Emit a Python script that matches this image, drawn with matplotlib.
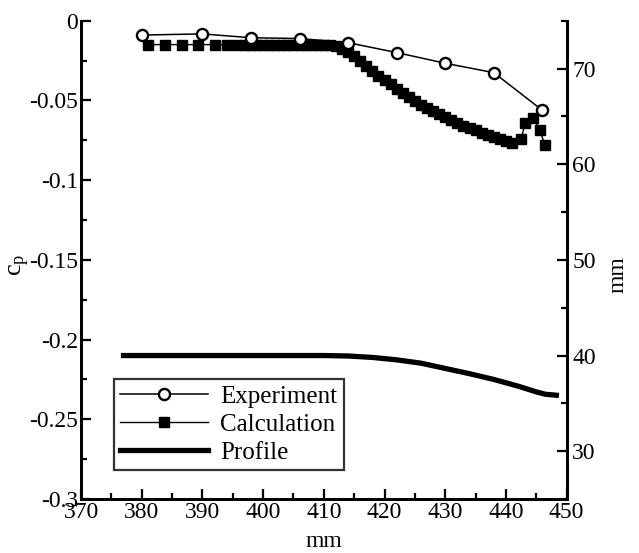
import matplotlib

matplotlib.use("Agg")
import matplotlib.pyplot as plt
from matplotlib.ticker import MultipleLocator

plt.rcParams["font.family"] = ["Liberation Serif", "DejaVu Serif"]
plt.rcParams["mathtext.fontset"] = "stix"

# pressure coefficient, measured
exp_x = [380, 390, 398, 406, 414, 422, 430, 438, 446]
exp_cp = [-0.0090, -0.0083, -0.0107, -0.0112, -0.0138, -0.0200, -0.0267, -0.0326, -0.0562]

# pressure coefficient, computed
calc_x = [381, 383.8, 386.6, 389.3, 392, 394, 395.7,
          397, 398, 399, 400, 401, 402, 403, 404, 405, 406, 407, 408, 409, 410, 411,
          412, 413, 414, 415, 416, 417, 418, 419, 420, 421, 422, 423, 424, 425, 426,
          427, 428, 429, 430, 431, 432, 433, 434, 435, 436, 437, 438, 439, 440, 441,
          442.5, 443.2, 444.5, 445.6, 446.4]
calc_cp = [-0.0150, -0.0150, -0.0150, -0.0150, -0.0150, -0.0150, -0.0150,
           -0.0150, -0.0150, -0.0150, -0.0150, -0.0150, -0.0150, -0.0150, -0.0150,
           -0.0150, -0.0150, -0.0150, -0.0150, -0.0150, -0.0150, -0.0152,
           -0.0160, -0.0180, -0.0195, -0.0220, -0.0250, -0.0285, -0.0315, -0.0345,
           -0.0370, -0.0400, -0.0428, -0.0453, -0.0478, -0.0503, -0.0527,
           -0.0545, -0.0565, -0.0585, -0.0605, -0.0623, -0.0640, -0.0658, -0.0673,
           -0.0688, -0.0702, -0.0716, -0.0728, -0.0742, -0.0754, -0.0768,
           -0.0740, -0.0640, -0.0610, -0.0686, -0.0780]

# wall profile height (right axis, mm)
prof_x = [377, 410, 414, 418, 422, 426, 430, 434, 438, 442, 445, 446.5, 448.3]
prof_mm = [40.0, 40.0, 39.95, 39.8, 39.55, 39.2, 38.65, 38.1, 37.5, 36.8, 36.2, 35.95, 35.85]

FS = 17

fig = plt.figure(figsize=(6.39, 5.53), dpi=100)
ax = fig.add_axes([0.1268, 0.0976, 0.7600, 0.8650])
ax2 = ax.twinx()

h_exp, = ax.plot(exp_x, exp_cp, "-o", color="black", lw=1.1, ms=8,
                 mfc="white", mec="black", mew=1.7, label="Experiment", zorder=4)
h_calc, = ax.plot(calc_x, calc_cp, "-s", color="black", lw=1.0, ms=6.5,
                  label="Calculation", zorder=3)
h_prof, = ax2.plot(prof_x, prof_mm, "-", color="black", lw=3.8, label="Profile")

ax.set_xlim(370, 450)
ax.set_ylim(-0.3, 0)
ax2.set_ylim(25, 75)

ax.xaxis.set_major_locator(MultipleLocator(10))
ax.xaxis.set_minor_locator(MultipleLocator(5))
ax.yaxis.set_major_locator(MultipleLocator(0.05))
ax.yaxis.set_minor_locator(MultipleLocator(0.025))
ax2.yaxis.set_major_locator(MultipleLocator(10))
ax2.yaxis.set_minor_locator(MultipleLocator(5))
ax.yaxis.set_major_formatter(plt.FuncFormatter(lambda v, p: "0" if abs(v) < 1e-9 else f"{v:g}"))

for a in (ax, ax2):
    a.spines["top"].set_visible(False)
    for s in a.spines.values():
        s.set_linewidth(2.0)
    a.tick_params(which="both", direction="in", width=1.6, labelsize=FS, pad=3)
    a.tick_params(which="major", length=7)
    a.tick_params(which="minor", length=4.5)
ax.tick_params(axis="y", pad=2)
ax.tick_params(axis="x", pad=2)
ax2.tick_params(axis="y", pad=4)

ax.set_xlabel("mm", fontsize=FS, labelpad=6)
ax.set_ylabel("$\\mathregular{c_p}$", fontsize=FS + 2, rotation=90)
ax.yaxis.set_label_coords(-0.10, 0.49)
ax2.set_ylabel("mm", fontsize=FS, rotation=90)
ax2.yaxis.set_label_coords(1.085, 0.47)

leg = ax.legend(handles=[h_exp, h_calc, h_prof], loc="lower left",
                bbox_to_anchor=(0.068, 0.061), borderaxespad=0, fontsize=FS + 1,
                frameon=True, fancybox=False, handlelength=3.5, handletextpad=0.5,
                labelspacing=0.22, borderpad=0.25)
leg.get_frame().set_edgecolor("black")
leg.get_frame().set_linewidth(1.6)

fig.savefig("out.png", dpi=100)
